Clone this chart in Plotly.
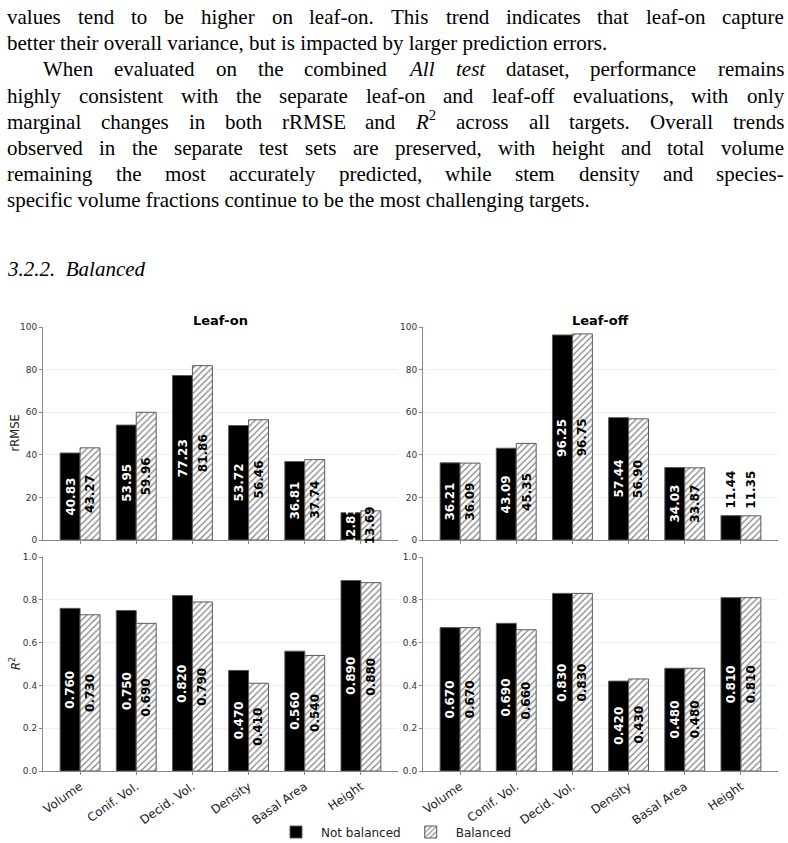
import re
import plotly.graph_objects as go

W, H = 788, 843

# ---------------- data ----------------
categories = ["Volume", "Conif. Vol.", "Decid. Vol.", "Density", "Basal Area", "Height"]
series_names = ["Not balanced", "Balanced"]
panel_titles = ["Leaf-on", "Leaf-off"]

rrmse_leafon_notbal = [40.83, 53.95, 77.23, 53.72, 36.81, 12.81]
rrmse_leafon_bal = [43.27, 59.96, 81.86, 56.46, 37.74, 13.69]
rrmse_leafoff_notbal = [36.21, 43.09, 96.25, 57.44, 34.03, 11.44]
rrmse_leafoff_bal = [36.09, 45.35, 96.75, 56.90, 33.87, 11.35]

r2_leafon_notbal = [0.760, 0.750, 0.820, 0.470, 0.560, 0.890]
r2_leafon_bal = [0.730, 0.690, 0.790, 0.410, 0.540, 0.880]
r2_leafoff_notbal = [0.670, 0.690, 0.830, 0.420, 0.480, 0.810]
r2_leafoff_bal = [0.670, 0.660, 0.830, 0.430, 0.480, 0.810]

rrmse_ticks = [0, 20, 40, 60, 80, 100]
r2_ticks = [0.0, 0.2, 0.4, 0.6, 0.8, 1.0]
y_titles = ["rRMSE", "<i>R</i><sup>2</sup>"]

text_lines = [
    ("values tend to be higher on leaf-on. This trend indicates that leaf-on capture", True, 0),
    ("better their overall variance, but is impacted by larger prediction errors.", False, 0),
    ("When evaluated on the combined <i>All</i> <i>test</i> dataset, performance remains", True, 36),
    ("highly consistent with the separate leaf-on and leaf-off evaluations, with only", True, 0),
    ("marginal changes in both rRMSE and <i>R</i><sup>2</sup> across all targets. Overall trends", True, 0),
    ("observed in the separate test sets are preserved, with height and total volume", True, 0),
    ("remaining the most accurately predicted, while stem density and species-", True, 0),
    ("specific volume fractions continue to be the most challenging targets.", False, 0),
]
heading = "<i>3.2.2.&nbsp;&nbsp;Balanced</i>"

# ---------------- helpers ----------------
def px(x):
    return x / W


def py(y):
    return 1 - y / H


TIMES = dict(a=444, b=500, c=444, d=500, e=444, f=333, g=500, h=500, i=278, j=278, k=500,
             l=278, m=778, n=500, o=500, p=500, q=500, r=333, s=389, t=278, u=500, v=500,
             w=722, x=500, y=500, z=444,
             A=722, B=667, C=667, D=722, E=611, F=556, G=722, H=722, I=333, J=389, K=722,
             L=611, M=889, N=722, O=722, P=556, Q=722, R=667, S=556, T=611, U=722, V=722,
             W=944, X=722, Y=722, Z=611)
TIMES.update({" ": 250, ".": 250, ",": 250, "-": 333, "2": 500})


def word_width(word, fs):
    sup = re.findall(r"<sup>(.*?)</sup>", word)
    base = re.sub(r"<sup>.*?</sup>", "", word)
    base = re.sub(r"<[^>]+>", "", base)
    w = sum(TIMES.get(c, 500) for c in base)
    w += sum(0.7 * TIMES.get(c, 500) for s in sup for c in s)
    return w * fs / 1000.0


fig = go.Figure()

# ---------------- body text ----------------
FS = 21
LEFT, RIGHT = 6, 783
TXT_FONT = dict(family="'Liberation Serif', 'Times New Roman', serif", size=FS, color="black")
for k, (line, justify, indent) in enumerate(text_lines):
    baseline = 25 + 26.2 * k
    ybot = py(baseline + 5)
    if justify:
        words = line.split(" ")
        widths = [word_width(wd, FS) for wd in words]
        x0 = LEFT + indent
        gap = (RIGHT - x0 - sum(widths)) / (len(words) - 1)
        x = x0
        for wd, ww in zip(words, widths):
            fig.add_annotation(x=px(x), y=ybot, xref="paper", yref="paper", text=wd,
                               showarrow=False, xanchor="left", yanchor="bottom",
                               borderpad=0, font=TXT_FONT)
            x += ww + gap
    else:
        fig.add_annotation(x=px(LEFT + indent), y=ybot, xref="paper", yref="paper", text=line,
                           showarrow=False, xanchor="left", yanchor="bottom",
                           borderpad=0, font=TXT_FONT)

fig.add_annotation(x=px(LEFT), y=py(277 + 5), xref="paper", yref="paper", text=heading,
                   showarrow=False, xanchor="left", yanchor="bottom", borderpad=0,
                   font=TXT_FONT)

# ---------------- chart ----------------
xdoms = [[px(43), px(398)], [px(423), px(778)]]
ydoms = [[py(540), py(327)], [py(771), py(557)]]

panels = [
    # (notbal, bal, col, row, is_r2)
    (rrmse_leafon_notbal, rrmse_leafon_bal, 0, 0, False),
    (rrmse_leafoff_notbal, rrmse_leafoff_bal, 1, 0, False),
    (r2_leafon_notbal, r2_leafon_bal, 0, 1, True),
    (r2_leafoff_notbal, r2_leafoff_bal, 1, 1, True),
]

BARGAP = 0.29
BW = (1 - BARGAP) / 2
EDGE = "#5a5a5a"

layout_axes = {}
for idx, (nb, bal, col, row, is_r2) in enumerate(panels):
    n = idx + 1
    xa = "x" if n == 1 else f"x{n}"
    ya = "y" if n == 1 else f"y{n}"
    fig.add_bar(x=categories, y=nb, name=series_names[0], xaxis=xa, yaxis=ya,
                marker=dict(color="black", line=dict(color=EDGE, width=1)),
                showlegend=(n == 1), legendgroup="nb", offsetgroup="nb")
    fig.add_bar(x=categories, y=bal, name=series_names[1], xaxis=xa, yaxis=ya,
                marker=dict(color="white", line=dict(color=EDGE, width=1),
                            pattern=dict(shape="/", fgcolor="#111111", bgcolor="white",
                                         size=4.5, solidity=0.3)),
                showlegend=(n == 1), legendgroup="b", offsetgroup="b")

    thresh = 0.12 if is_r2 else 12
    fmt = "{:.3f}" if is_r2 else "{:.2f}"
    for vals, off, color in ((nb, -BW / 2, "white"), (bal, BW / 2, "black")):
        for i, v in enumerate(vals):
            inside = v > thresh
            fig.add_annotation(x=i + off, y=(v / 2 if inside else v), xref=xa, yref=ya,
                               text="<b>" + fmt.format(v) + "</b>", textangle=-90,
                               showarrow=False, yanchor=("middle" if inside else "bottom"),
                               yshift=(0 if inside else 5),
                               font=dict(family="DejaVu Sans", size=12,
                                         color=(color if inside else "black")))

    xkey = "xaxis" if n == 1 else f"xaxis{n}"
    ykey = "yaxis" if n == 1 else f"yaxis{n}"
    layout_axes[xkey] = dict(domain=xdoms[col], anchor=ya, type="category",
                             range=[-0.66, len(categories) - 1 + 0.66],
                             showline=True, linecolor="#888888", linewidth=1,
                             ticks="outside", ticklen=3, tickcolor="#888888",
                             showgrid=False, showticklabels=(row == 1), tickangle=-35,
                             tickfont=dict(family="DejaVu Sans", size=12, color="#222222"))
    layout_axes[ykey] = dict(domain=ydoms[row], anchor=xa,
                             range=[0, 1.0] if is_r2 else [0, 100],
                             tickvals=r2_ticks if is_r2 else rrmse_ticks,
                             tickformat=".1f" if is_r2 else "d",
                             showline=True, linecolor="#888888", linewidth=1,
                             ticks="outside", ticklen=3, tickcolor="#888888",
                             showgrid=True, gridcolor="#eeeeee", gridwidth=1, zeroline=False,
                             tickfont=dict(family="DejaVu Sans", size=9, color="#333333"))
    if col == 0:
        fig.add_annotation(x=px(15), y=sum(ydoms[row]) / 2, xref="paper", yref="paper",
                           text=y_titles[row], textangle=-90, showarrow=False,
                           xanchor="center", yanchor="middle",
                           font=dict(family="DejaVu Sans", size=11.5, color="#222222"))

    if row == 0:
        fig.add_annotation(x=sum(xdoms[col]) / 2, y=py(320), xref="paper", yref="paper",
                           text="<b>" + panel_titles[col] + "</b>", showarrow=False,
                           xanchor="center", yanchor="middle",
                           font=dict(family="DejaVu Sans", size=13, color="black"))

fig.update_layout(
    width=W, height=H,
    margin=dict(l=0, r=0, t=0, b=0, autoexpand=False),
    paper_bgcolor="white", plot_bgcolor="white",
    barmode="group", bargap=BARGAP, bargroupgap=0,
    font=dict(family="DejaVu Sans", color="#222222"),
    legend=dict(orientation="h", x=0.5, xanchor="center", y=py(832), yanchor="middle",
                font=dict(family="DejaVu Sans", size=12, color="#222222"),
                itemwidth=40, bgcolor="rgba(0,0,0,0)"),
    **layout_axes,
)

fig.write_html("out.html")
